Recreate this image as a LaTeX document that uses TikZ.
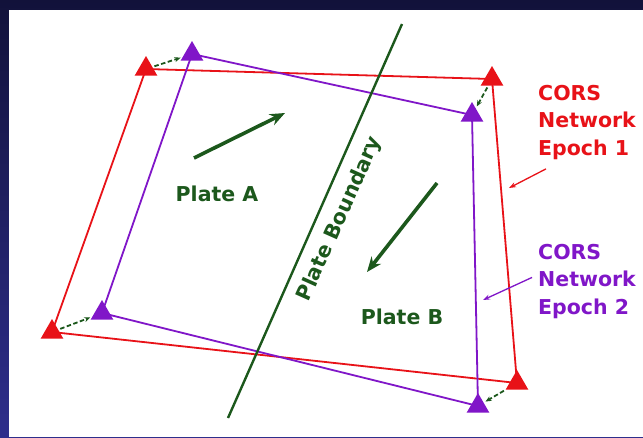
\documentclass[tikz,border=0pt]{standalone}
\usepackage{fontspec}
\setmainfont{DejaVu Sans}
\usetikzlibrary{shapes.geometric,arrows.meta}

\definecolor{epochred}{RGB}{232,18,24}
\definecolor{epochpurple}{RGB}{128,22,200}
\definecolor{plategreen}{RGB}{28,88,28}
\definecolor{slidenavy}{RGB}{18,18,58}
\definecolor{slideblue}{RGB}{46,46,140}

\begin{document}
\begin{tikzpicture}[
    x=1pt, y=-1pt,
    redtri/.style={regular polygon, regular polygon sides=3, fill=epochred,
                inner sep=0pt, minimum size=26pt},
    purpletri/.style={redtri, fill=epochpurple},
    net1/.style={draw=epochred, line width=1.8pt, line join=round},
    net2/.style={draw=epochpurple, line width=1.8pt, line join=round},
    shiftarrow/.style={-{Stealth[length=6pt, width=5pt]}, plategreen, line width=1.8pt,
                dash pattern=on 4.5pt off 2.5pt, shorten <=2pt, shorten >=2pt},
    motion/.style={-{Stealth[length=15pt, width=12pt]}, plategreen, line width=3.6pt},
    platelabel/.style={text=plategreen, font=\bfseries\fontsize{20.5}{24}\selectfont},
    corslabel/.style={anchor=north west, inner sep=0pt, align=left,
                font=\bfseries\fontsize{20.5}{27.5}\selectfont},
    pointer/.style={-{Stealth[length=7pt, width=5pt]}, line width=1.3pt}
]
    \useasboundingbox (0,0) rectangle (643,437);
    \fill[top color=slidenavy, bottom color=slideblue] (0,0) rectangle (643,437);
    \fill[white] (9,10) rectangle (643,437);

    % station positions, epoch 1 and epoch 2
    \coordinate (r1) at (146,69);
    \coordinate (r2) at (492,79);
    \coordinate (r3) at (517,383);
    \coordinate (r4) at (52,332);
    \coordinate (p1) at (192,54);
    \coordinate (p2) at (472,115);
    \coordinate (p3) at (478,406);
    \coordinate (p4) at (102,313);

    \draw[net1] (r1) -- (r2) -- (r3) -- (r4) -- cycle;
    \draw[net2] (p1) -- (p2) -- (p3) -- (p4) -- cycle;

    % plate boundary and motion
    \coordinate (pblow) at (228,418);
    \coordinate (pbhigh) at (402,24);
    \draw[plategreen, line width=2.4pt] (pblow) -- (pbhigh);
    \node[platelabel, rotate=66] (pbtext) at (340,219) {Plate Boundary};

    \draw[motion] (194,158) -- (285,113);
    \draw[motion] (437,183) -- (367,272);
    \node[platelabel] (platea) at (217,194) {Plate A};
    \node[platelabel] (plateb) at (402,317) {Plate B};

    \node[redtri] (R1) at (r1) {};
    \node[redtri] (R2) at (r2) {};
    \node[redtri] (R3) at (r3) {};
    \node[redtri] (R4) at (r4) {};
    \node[purpletri] (P1) at (p1) {};
    \node[purpletri] (P2) at (p2) {};
    \node[purpletri] (P3) at (p3) {};
    \node[purpletri] (P4) at (p4) {};

    \draw[shiftarrow] (R1) -- (P1);
    \draw[shiftarrow] (R2) -- (P2);
    \draw[shiftarrow] (R3) -- (P3);
    \draw[shiftarrow] (R4) -- (P4);

    % legend
    \node[corslabel, text=epochred] (lab1) at (538,85) {CORS\\Network\\Epoch 1};
    \node[corslabel, text=epochpurple] (lab2) at (538,244) {CORS\\Network\\Epoch 2};
    \coordinate (tip1) at (509,188);
    \coordinate (tip2) at (483,300);
    \draw[pointer, epochred] ([shift={(8,9)}]lab1.south west) -- (tip1);
    \draw[pointer, epochpurple] ([shift={(-6,-4)}]lab2.west) -- (tip2);
\end{tikzpicture}
\end{document}
